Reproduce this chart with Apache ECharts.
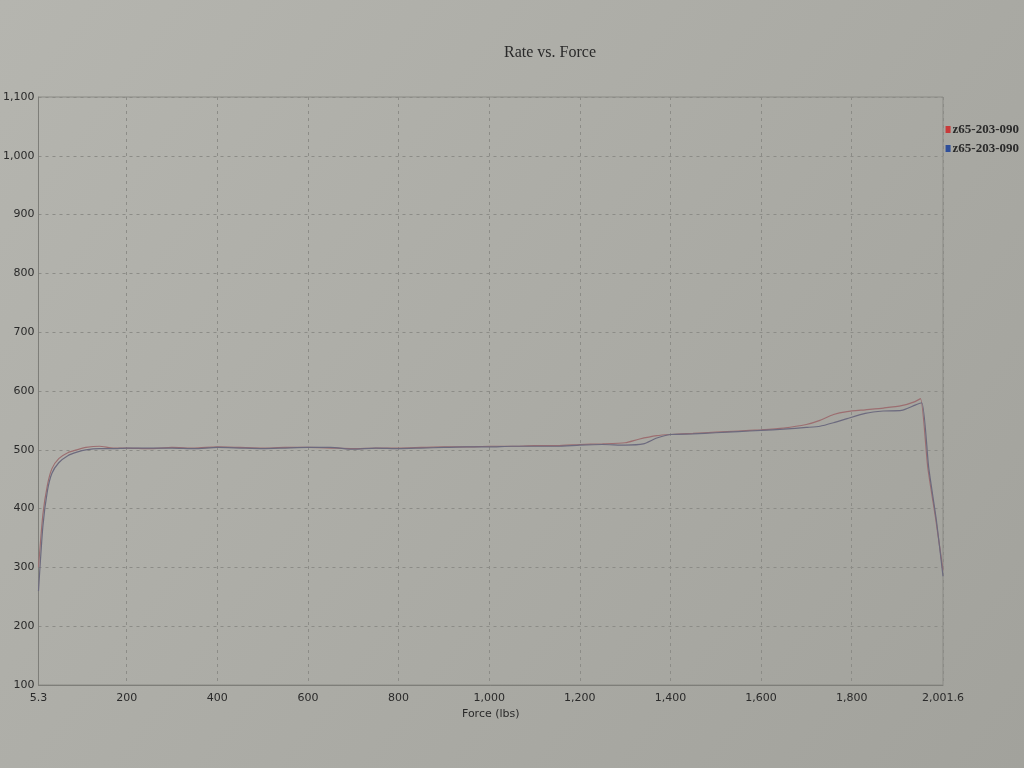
<!DOCTYPE html>
<html>
<head>
<meta charset="utf-8">
<script src="https://cdn.jsdelivr.net/npm/echarts@6/dist/echarts.min.js"></script>
<style>
html,body{margin:0;padding:0;background:#aaaaa4;}
#chart{width:1024px;height:768px;}
</style>
</head>
<body>
<div id="chart"></div>
<script>
const title = 'Rate vs. Force';
const xAxisName = 'Force (lbs)';
const seriesNames = ['z65-203-090', 'z65-203-090'];
const xTicks = [5.3, 200, 400, 600, 800, 1000, 1200, 1400, 1600, 1800, 2001.6];

const forceRed = [5.3, 15, 25, 35, 50, 70, 90, 110, 140, 170, 200, 250, 300, 350, 400, 450, 500, 550, 600, 650, 700, 750, 800, 850, 900, 950, 1000, 1050, 1100, 1150, 1200, 1250, 1300, 1330, 1370, 1400, 1450, 1500, 1550, 1600, 1650, 1700, 1730, 1760, 1790, 1830, 1870, 1910, 1940, 1952, 1968, 1985, 2001.6];
const rateRed  = [300, 390, 440, 468, 485, 495, 500, 504, 506, 503, 503, 502, 504, 503, 505, 504, 503, 504, 504, 503, 502, 503, 503, 504, 505, 505, 506, 506, 507, 507, 509, 510, 512, 518, 524, 526, 528, 530, 532, 534, 537, 543, 550, 560, 565, 568, 571, 575, 582, 587, 470, 385, 295];

const forceBlue = [5.3, 15, 25, 35, 50, 70, 90, 110, 140, 170, 200, 250, 300, 350, 400, 450, 500, 550, 600, 650, 700, 750, 800, 850, 900, 950, 1000, 1050, 1100, 1150, 1200, 1250, 1300, 1340, 1370, 1400, 1450, 1500, 1550, 1600, 1650, 1700, 1730, 1760, 1790, 1830, 1870, 1910, 1940, 1955, 1970, 1987, 2001.6];
const rateBlue  = [260, 370, 430, 460, 478, 490, 496, 500, 502, 502, 503, 503, 503, 502, 504, 503, 502, 503, 504, 504, 501, 503, 502, 503, 504, 505, 505, 506, 506, 506, 508, 509, 508, 510, 520, 526, 527, 529, 531, 533, 535, 538, 540, 546, 553, 562, 566, 567, 576, 580, 470, 380, 285];

const zip = (xs, ys) => xs.map((x, i) => [x, ys[i]]);
const fmt = v => Number(v).toLocaleString('en-US', {maximumFractionDigits: 1});

const chart = echarts.init(document.getElementById('chart'));
chart.setOption({
  backgroundColor: {
    type: 'linear', x: 0, y: 0, x2: 1, y2: 1,
    colorStops: [{offset: 0, color: '#b5b5af'}, {offset: 1, color: '#a2a29c'}]
  },
  animation: false,
  title: {
    text: title, left: 545, top: 40, textAlign: 'center',
    textStyle: {fontFamily: 'Liberation Serif', fontSize: 16, fontWeight: 'normal', color: '#2a2a2a'}
  },
  legend: {
    orient: 'vertical', right: 0, top: 118, itemGap: 6,
    itemWidth: 5, itemHeight: 7, icon: 'rect',
    textStyle: {fontFamily: 'Liberation Serif', fontSize: 13, fontWeight: 'bold', color: '#2a2a2a', padding: [0,0,0,-3]},
    data: [
      {name: 'red', itemStyle: {color: '#c83a3a'}},
      {name: 'blue', itemStyle: {color: '#2f4f9a'}}
    ],
    formatter: n => n === 'red' ? seriesNames[0] : seriesNames[1]
  },
  grid: {left: 38, right: 81, top: 97, bottom: 83, show: true, borderColor: '#8a8a85', borderWidth: 1, backgroundColor: 'transparent'},
  xAxis: {
    type: 'value', min: 5.3, max: 2001.6,
    name: xAxisName, nameLocation: 'middle', nameGap: 22,
    nameTextStyle: {fontFamily: 'DejaVu Sans', fontSize: 11, color: '#2a2a2a'},
    axisLine: {lineStyle: {color: '#7e7e79'}},
    axisTick: {show: false, customValues: xTicks},
    axisLabel: {customValues: xTicks, formatter: fmt, fontFamily: 'DejaVu Sans', fontSize: 11, color: '#2a2a2a', margin: 8},
    splitLine: {show: true, lineStyle: {color: '#8c8c87', type: [3, 4], width: 1}}
  },
  yAxis: {
    type: 'value', min: 100, max: 1100, interval: 100,
    axisLine: {show: true, lineStyle: {color: '#7e7e79'}},
    axisTick: {show: false},
    axisLabel: {formatter: fmt, fontFamily: 'DejaVu Sans', fontSize: 11, color: '#2a2a2a', margin: 4},
    splitLine: {show: true, lineStyle: {color: '#8c8c87', type: [3, 4], width: 1}}
  },
  series: [
    {name: 'red', type: 'line', data: zip(forceRed, rateRed), showSymbol: false, smooth: 0.2,
     lineStyle: {color: '#9c6e70', width: 1.2}, itemStyle: {color: '#c83a3a'}},
    {name: 'blue', type: 'line', data: zip(forceBlue, rateBlue), showSymbol: false, smooth: 0.2,
     lineStyle: {color: '#6c6a7e', width: 1.2}, itemStyle: {color: '#2f4f9a'}}
  ]
});
</script>
</body>
</html>
